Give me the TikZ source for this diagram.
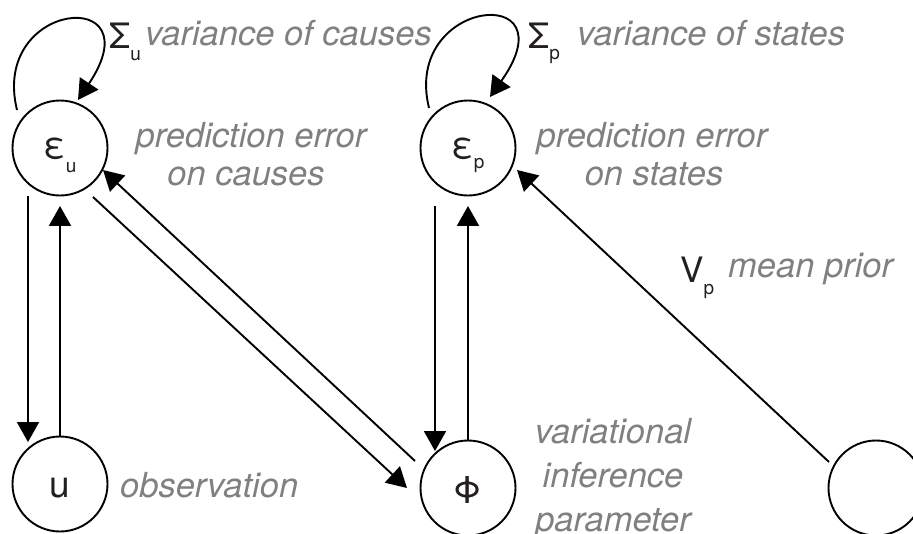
\documentclass[tikz,border=0pt]{standalone}
\usepackage{fontspec}
\setmainfont{TeX Gyre Heros}
\usetikzlibrary{arrows.meta}
\definecolor{lab}{RGB}{128,128,128}
\definecolor{ink}{RGB}{35,31,32}
\newcommand\mysub[2][14pt]{\raisebox{-#1}{\fontsize{19}{19}\selectfont #2}}
\begin{document}
\begin{tikzpicture}[x=1pt,y=-1pt,
  circ/.style={circle,draw=black,line width=1.9pt,minimum size=95pt,inner sep=0pt,
    font=\fontsize{37}{37}\selectfont,text=ink,text depth=0pt},
  arr/.style={line width=1.9pt,-{Triangle[length=20pt,width=22pt]}},
  lbl/.style={anchor=base,inner sep=0pt,font=\fontsize{34.5}{40}\selectfont\itshape,text=lab},
  lblw/.style={lbl,anchor=base west},
  sym/.style={anchor=base west,inner sep=0pt,font=\fontsize{35}{35}\selectfont,text=ink}]
\useasboundingbox (0,0) rectangle (913,533);
% circles
\node[circ,text height=20pt] (eu) at (60,148) {ε\mysub[14pt]{u}};
\node[circ,text height=20pt] (ep) at (468,148) {ε\mysub[10pt]{p}};
\node[circ,text height=26pt] (u) at (60,484) {u};
\node[circ,text height=30pt] (phi) at (468,488) {Φ};
\node[circ] (pr) at (876,488) {};
% vertical connectors
\draw[arr] ([shift={(-32,0)}]eu.south) -- ([shift={(-32,6.5)}]u.north);
\draw[arr] (u.north) -- ([shift={(0,9.5)}]eu.south);
\draw[arr] ([shift={(-33,9.5)}]ep.south) -- ([shift={(-33,11.5)}]phi.north);
\draw[arr] (phi.north) -- ([shift={(0,9.5)}]ep.south);
% diagonal connectors
\draw[arr] ([shift={(33,49)}]eu.center) -- ([shift={(-61,0)}]phi.center);
\draw[arr] ([shift={(-53,-27)}]phi.center) -- ([shift={(43,22)}]eu.center);
\draw[arr] ([shift={(-47,-26)}]pr.center) -- ([shift={(49,22)}]ep.center);
% self loops
\draw[arr] ([shift={(-43,-38)}]eu.center) .. controls ([shift={(-70,-148)}]eu.center) and ([shift={(95,-163)}]eu.center) .. ([shift={(18,-48)}]eu.center);
\draw[arr] ([shift={(-39,-40)}]ep.center) .. controls ([shift={(-66,-150)}]ep.center) and ([shift={(104,-167)}]ep.center) .. ([shift={(22,-51)}]ep.center);
% labels
\node[sym] (su) at (109,48) {Σ\mysub[12pt]{u}};
\node[lblw] (vc) at (145,45) {variance of causes};
\node[lbl] (pe1) at (251,147) {prediction error};
\node[lbl] (pe2) at (246,185) {on causes};
\node[sym] (sp) at (528,48) {Σ\mysub[11pt]{p}};
\node[lblw] (vs) at (577,45) {variance of states};
\node[lbl] (ps1) at (652,147) {prediction error};
\node[lbl] (ps2) at (654,185) {on states};
\node[sym] (vp) at (680,282) {V\mysub[12pt]{p}};
\node[lblw] (mp) at (728,277) {mean prior};
\node[lblw] (ob) at (120,497) {observation};
\node[lbl] (vi1) at (613,443) {variational};
\node[lbl] (vi2) at (613,487) {inference};
\node[lbl] (vi3) at (613,531) {parameter};
\end{tikzpicture}
\end{document}
